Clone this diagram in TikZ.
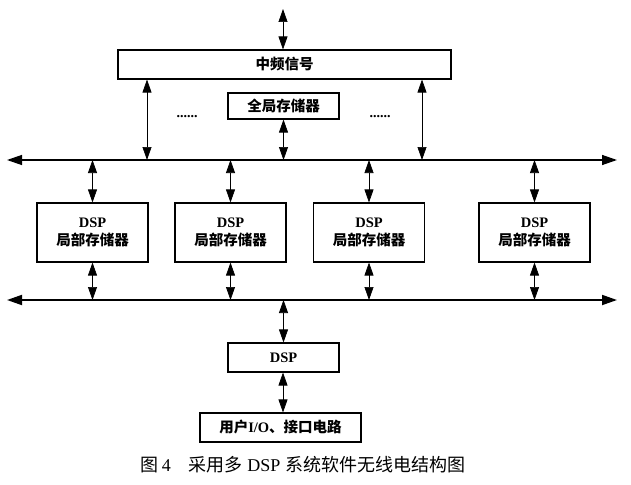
\documentclass[tikz,border=0pt]{standalone}
\usepackage{fontspec}
\setmainfont{Liberation Serif}
\newfontfamily\cjk{Noto Sans CJK SC}
\usetikzlibrary{arrows.meta}
\begin{document}
\begin{tikzpicture}[x=1pt,y=-1pt,
  box/.style={draw, line width=1.1pt, inner sep=0pt, align=center,
    font=\fontsize{14.5}{18}\selectfont\cjk\bfseries},
  bt/.tip={Triangle[length=13pt,width=9pt]},
  bbt/.tip={Triangle[length=15pt,width=10pt]},
  link/.style={bt-bt, line width=0.7pt},
  bus/.style={bbt-bbt, line width=1.3pt},
  dotstext/.style={font=\fontsize{14}{14}\selectfont\bfseries},
  captext/.style={font=\fontsize{18}{21}\selectfont}]
\useasboundingbox (0,0) rectangle (631,484);
% boxes
\node[box, minimum width=333pt, minimum height=29pt] (if) at (284.5,64.5) {中频信号};
\node[box, minimum width=111pt, minimum height=26pt] (gm) at (283.5,106) {全局存储器};
\node[box, minimum width=111pt, minimum height=59pt] (d1) at (92.5,232.5) {{\rmfamily\bfseries DSP}\\局部存储器};
\node[box, minimum width=111pt, minimum height=59pt] (d2) at (230.5,232.5) {{\rmfamily\bfseries DSP}\\局部存储器};
\node[box, minimum width=111pt, minimum height=59pt] (d3) at (369,232.5) {{\rmfamily\bfseries DSP}\\局部存储器};
\node[box, minimum width=111pt, minimum height=59pt] (d4) at (534.5,232.5) {{\rmfamily\bfseries DSP}\\局部存储器};
\node[box, minimum width=111pt, minimum height=29pt] (dsp) at (283.5,357.5) {{\rmfamily\bfseries DSP}};
\node[box, minimum width=161pt, minimum height=29pt] (io) at (280.5,427.5) {用户{\rmfamily\bfseries I/O}、接口电路};
\node[dotstext] (dl) at (187,117) {......};
\node[dotstext] (dr) at (380,117) {......};
% buses
\coordinate (b1L) at (7,160);
\coordinate (b1R) at (617,160);
\coordinate (b2L) at (7,300);
\coordinate (b2R) at (617,300);
\draw[bus] (b1L) -- (b1R);
\draw[bus, line width=1.8pt] (b2L) -- (b2R);
% connectors
\coordinate (top) at (283,9);
\draw[link] (top) -- (top |- if.north);
\draw[link] ([xshift=-137.5pt]if.south) -- ([xshift=-137.5pt]if.south |- b1L);
\draw[link] ([xshift=137.5pt]if.south) -- ([xshift=137.5pt]if.south |- b1L);
\draw[link] (gm.south) -- (gm.south |- b1L);
\foreach \n in {d1,d2,d3,d4}{
  \draw[link] (\n.north) -- (\n.north |- b1L);
  \draw[link] (\n.south) -- (\n.south |- b2L);
}
\draw[link] (dsp.north) -- (dsp.north |- b2L);
\draw[link] ([xshift=2.5pt]io.north) -- ([xshift=2.5pt]io.north |- dsp.south);
% caption
\node[captext] (caption) at (303,465) {{\cjk 图}\,4\quad{\cjk 采用多} DSP {\cjk 系统软件无线电结构图}};
\end{tikzpicture}
\end{document}
